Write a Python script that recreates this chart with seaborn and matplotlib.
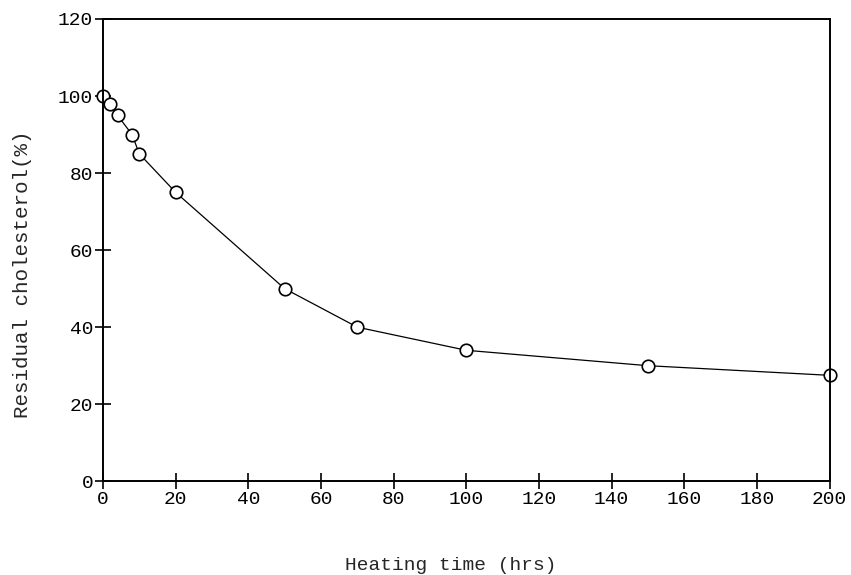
import matplotlib
matplotlib.use("Agg")
import matplotlib.pyplot as plt
import seaborn as sns
import pandas as pd

heating_time = [0, 2, 4, 8, 10, 20, 50, 70, 100, 150, 200]
residual_cholesterol = [100, 98, 95, 90, 85, 75, 50, 40, 34, 30, 27.5]
x_ticks = [0, 20, 40, 60, 80, 100, 120, 140, 160, 180, 200]
y_ticks = [0, 20, 40, 60, 80, 100, 120]

sns.set_style("white")
plt.rcParams['font.family'] = ['Liberation Mono', 'DejaVu Sans Mono']

df = pd.DataFrame({"t": heating_time, "c": residual_cholesterol})

fig = plt.figure(figsize=(8.51, 5.75), dpi=100)
ax = fig.add_axes([0.121, 0.163, 0.854, 0.804])

sns.lineplot(data=df, x="t", y="c", ax=ax, color="black", linewidth=0.9,
             marker="o", markersize=9, markerfacecolor="white",
             markeredgecolor="black", markeredgewidth=1.2, clip_on=False)

ax.set_xlim(0, 200)
ax.set_ylim(0, 120)
ax.set_xticks(x_ticks)
ax.set_yticks(y_ticks)
for s in ax.spines.values():
    s.set_color("black")
    s.set_linewidth(1.4)
ax.tick_params(axis="both", which="major", bottom=True, left=True,
               direction="inout", length=12, width=1.2,
               labelsize=14, colors="black")
ax.tick_params(axis="x", pad=1)
ax.tick_params(axis="y", pad=1)
ax.set_xlabel("Heating time (hrs)", fontsize=14)
ax.set_ylabel("Residual cholesterol(%)", fontsize=15)
ax.xaxis.set_label_coords(0.479, -0.163)
ax.yaxis.set_label_coords(-0.098, 0.448)

fig.savefig("out.png", dpi=100, facecolor="white")
